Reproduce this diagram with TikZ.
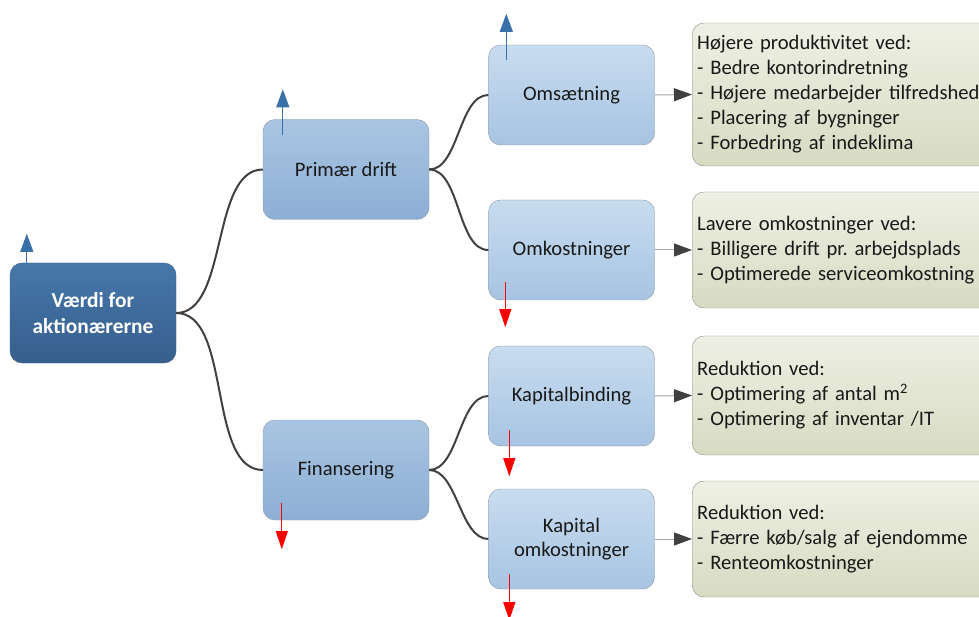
\documentclass[tikz,border=0pt]{standalone}
\usepackage{fontspec}
\setmainfont{Carlito}
\usetikzlibrary{arrows.meta}
\frenchspacing

\definecolor{rootTop}{HTML}{4777AB}
\definecolor{rootBot}{HTML}{365F8C}
\definecolor{rootLine}{HTML}{3A5F86}
\definecolor{oneTop}{HTML}{A9C5E2}
\definecolor{oneBot}{HTML}{8DAFD4}
\definecolor{twoTop}{HTML}{C8DCEF}
\definecolor{twoBot}{HTML}{A7C4E2}
\definecolor{boxLine}{HTML}{8A96A4}
\definecolor{noteTop}{HTML}{EEF0E4}
\definecolor{noteBot}{HTML}{D7DBC2}
\definecolor{noteLine}{HTML}{8C8C84}
\definecolor{connCol}{HTML}{404040}
\definecolor{linkCol}{HTML}{A6A6A6}
\definecolor{upBlue}{HTML}{3A70A8}
\definecolor{downRed}{HTML}{FF0000}

\begin{document}
\begin{tikzpicture}[x=1pt,y=-1pt,
  basebox/.style={rounded corners=12pt, minimum width=166pt, minimum height=100pt,
    inner sep=0pt, align=center, font=\fontsize{20.6}{24}\selectfont},
  rootbox/.style={basebox, draw=rootLine, top color=rootTop, bottom color=rootBot,
    text=white, font=\fontsize{21.4}{26.5}\selectfont\bfseries},
  levelone/.style={basebox, draw=boxLine, top color=oneTop, bottom color=oneBot, text=black!90},
  leveltwo/.style={basebox, draw=boxLine, top color=twoTop, bottom color=twoBot, text=black!90},
  notebox/.style={anchor=west, rounded corners=12pt, draw=noteLine, top color=noteTop,
    bottom color=noteBot, text width=300pt, inner xsep=5pt, inner ysep=0pt, align=left,
    text=black!90, font=\fontsize{20.6}{25}\selectfont},
  conn/.style={draw=connCol, line width=2pt},
  linkarr/.style={draw=linkCol, line width=1pt,
    -{Triangle[length=18pt,width=13pt,color=connCol]}},
  uparr/.style={draw=upBlue, line width=1pt,
    -{Triangle[length=18pt,width=13pt,color=upBlue]}},
  downarr/.style={draw=downRed, line width=1pt,
    -{Triangle[length=18pt,width=12pt,color=downRed]}}
]
\useasboundingbox (0,0) rectangle (979,617);

% tree nodes
\node[rootbox]  (root) at (93,313)     {Værdi for\\aktionærerne};
\node[levelone] (pd)   at (346,169.5)  {Primær drift};
\node[levelone] (fin)  at (346,470)    {Finansering};
\node[leveltwo] (oms)  at (571.5,95)   {Omsætning};
\node[leveltwo] (omk)  at (571.5,250)  {Omkostninger};
\node[leveltwo] (kb)   at (571.5,396)  {Kapitalbinding};
\node[leveltwo] (ko)   at (571.5,539)  {Kapital\\omkostninger};

% explanation boxes
\node[notebox, minimum height=143pt] (t1) at (692,94.5)
  {Højere produktivitet ved:\\- Bedre kontorindretning\\- Højere medarbejder tilfredshed\\- Placering af bygninger\\- Forbedring af indeklima};
\node[notebox, minimum height=116pt] (t2) at (692,250)
  {Lavere omkostninger ved:\\- Billigere drift pr. arbejdsplads\\- Optimerede serviceomkostning};
\node[notebox, minimum height=119pt] (t3) at (692,395.5)
  {Reduktion ved:\\- Optimering af antal m\textsuperscript{2}\\- Optimering af inventar /IT};
\node[notebox, minimum height=116pt] (t4) at (692,539)
  {Reduktion ved:\\- Færre køb/salg af ejendomme\\- Renteomkostninger};

% branch connectors
\draw[conn] (root.east) to[out=0,in=180,looseness=0.8] (pd.west);
\draw[conn] (root.east) to[out=0,in=180,looseness=0.8] (fin.west);
\draw[conn] (pd.east)   to[out=0,in=180,looseness=0.8] (oms.west);
\draw[conn] (pd.east)   to[out=0,in=180,looseness=0.8] (omk.west);
\draw[conn] (fin.east)  to[out=0,in=180,looseness=0.8] (kb.west);
\draw[conn] (fin.east)  to[out=0,in=180,looseness=0.8] (ko.west);

% links to explanations
\draw[linkarr] (oms.east) -- (t1.west);
\draw[linkarr] (omk.east) -- (t2.west);
\draw[linkarr] (kb.east)  -- (t3.west);
\draw[linkarr] (ko.east)  -- (t4.west);

% trend indicators
\draw[uparr]   ([xshift=17pt]root.north west) -- ++(0pt,29pt);
\draw[uparr]   ([xshift=20pt,yshift=-16pt]pd.north west) -- ++(0pt,46pt);
\draw[uparr]   ([xshift=18pt,yshift=-15pt]oms.north west) -- ++(0pt,46pt);
\draw[downarr] ([xshift=17pt,yshift=18pt]omk.south west) -- ++(0pt,-45pt);
\draw[downarr] ([xshift=19pt,yshift=17pt]fin.south west) -- ++(0pt,-46pt);
\draw[downarr] ([xshift=21pt,yshift=16pt]kb.south west) -- ++(0pt,-46pt);
\draw[downarr] ([xshift=21pt,yshift=15pt]ko.south west) -- ++(0pt,-46pt);
\end{tikzpicture}
\end{document}
